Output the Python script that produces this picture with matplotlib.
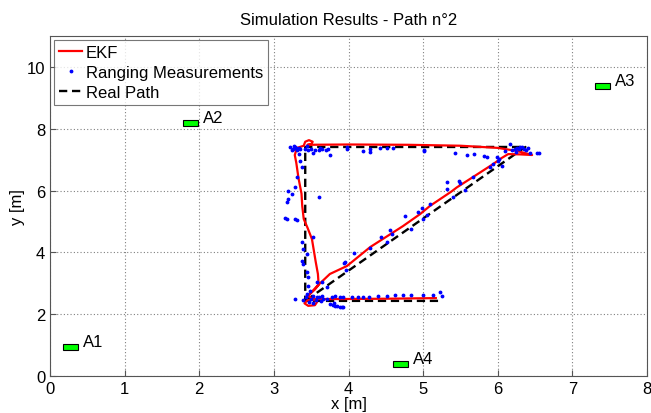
import matplotlib
matplotlib.use("Agg")
import matplotlib.pyplot as plt
from matplotlib.patches import Rectangle

plt.rcParams['font.family'] = ['Liberation Sans', 'DejaVu Sans']

# Real path
real_x = [5.20, 3.42, 3.42, 6.37, 3.42]
real_y = [2.43, 2.43, 7.41, 7.41, 2.43]

# EKF estimate
ekf_x = [5.17, 4.50, 3.90, 3.55, 3.45, 3.41, 3.46, 3.55, 3.58, 3.50, 3.46, 3.55, 3.60, 3.59,
         3.56, 3.51, 3.45, 3.40, 3.38, 3.37, 3.33, 3.30, 3.28, 3.31, 3.40, 3.42, 3.47, 3.52,
         3.50, 3.45, 4.00, 4.80, 5.50, 6.00, 6.26, 6.46, 6.30, 6.14, 6.05, 5.94, 5.67, 5.45,
         5.38, 5.09, 4.96, 4.73, 4.29, 3.98, 3.75, 3.58, 3.46]
ekf_y = [2.52, 2.50, 2.49, 2.49, 2.45, 2.35, 2.27, 2.29, 2.40, 2.52, 2.60, 2.80, 2.95, 3.30,
         3.70, 4.43, 4.80, 5.08, 5.50, 5.90, 6.40, 6.90, 7.15, 7.38, 7.45, 7.58, 7.63, 7.58,
         7.50, 7.48, 7.49, 7.48, 7.45, 7.38, 7.28, 7.15, 7.17, 7.18, 7.05, 6.86, 6.44, 6.10,
         5.97, 5.50, 5.24, 4.85, 4.17, 3.56, 3.30, 2.91, 2.60]

# Ranging measurements
meas_x = [3.22, 3.25, 3.28, 3.30, 3.33, 3.35, 3.27, 3.31, 3.42, 3.46, 3.50, 3.55, 3.60, 3.65,
          3.70, 3.72, 3.53, 3.75, 3.98, 4.19, 4.29, 4.42, 4.51, 4.60, 4.29, 5.01, 3.33, 3.35,
          3.38, 3.31, 3.28, 3.24, 3.19, 3.19, 3.18, 3.60, 3.15, 3.18, 3.31, 3.28, 3.38, 3.53,
          3.39, 3.44, 3.38, 3.39, 3.44, 3.46, 3.58, 3.65, 3.46, 3.49, 3.28, 3.39, 3.43, 3.47,
          3.50, 3.53, 3.57, 3.60, 3.63, 3.66, 3.45, 3.52, 3.71, 3.75, 3.79, 3.82, 3.85, 3.88,
          3.91, 3.93, 3.80, 3.78, 3.82, 3.89, 3.93, 4.05, 4.13, 4.19, 4.28, 4.40, 4.52, 4.62,
          4.73, 4.84, 5.00, 5.13, 5.23, 5.25, 3.71, 3.65, 3.58, 3.95, 3.94, 3.97, 4.07, 4.29,
          4.44, 4.56, 4.58, 4.52, 4.76, 4.84, 4.93, 4.99, 5.00, 5.05, 5.09, 5.32, 5.32, 5.40,
          5.48, 5.49, 5.56, 5.67, 5.90, 5.94, 5.99, 6.00, 6.02, 6.05, 5.43, 5.59, 5.68, 5.82,
          5.86, 5.01, 6.10, 6.17, 6.19, 6.23, 6.26, 6.29, 6.32, 6.35, 6.38, 6.41, 6.25, 6.30,
          6.53, 6.55, 6.43, 3.98, 3.62, 3.45, 3.24]
meas_y = [7.40, 7.35, 7.41, 7.37, 7.39, 7.36, 7.44, 7.30, 7.33, 7.30, 7.35, 7.32, 7.30, 7.34,
          7.31, 7.35, 7.22, 7.15, 7.35, 7.28, 7.35, 7.38, 7.38, 7.38, 7.25, 7.28, 7.18, 6.96,
          6.76, 6.44, 6.12, 5.89, 5.99, 5.73, 5.63, 5.79, 5.11, 5.08, 5.05, 5.08, 4.34, 4.50,
          4.11, 3.95, 3.72, 3.62, 3.37, 3.20, 3.04, 3.04, 2.91, 2.75, 2.49, 2.45, 2.55, 2.40,
          2.50, 2.60, 2.45, 2.55, 2.42, 2.50, 2.65, 2.35, 2.88, 2.33, 2.30, 2.28, 2.26, 2.24,
          2.22, 2.23, 2.35, 2.56, 2.59, 2.56, 2.56, 2.56, 2.56, 2.56, 2.56, 2.59, 2.59, 2.62,
          2.62, 2.62, 2.62, 2.62, 2.72, 2.59, 2.49, 2.59, 2.56, 3.69, 3.65, 3.43, 3.98, 4.14,
          4.50, 4.72, 4.60, 4.34, 5.18, 4.76, 5.31, 5.44, 5.08, 5.21, 5.57, 6.28, 6.05, 5.79,
          6.31, 6.25, 6.02, 6.44, 6.76, 6.86, 7.09, 6.96, 7.02, 6.80, 7.22, 7.15, 7.18, 7.12,
          7.09, 7.31, 7.28, 7.50, 7.30, 7.35, 7.38, 7.33, 7.40, 7.36, 7.30, 7.38, 7.25, 7.41,
          7.22, 7.20, 7.20, 7.41, 7.38, 7.45, 7.32]

# Anchors
anchor_names = ["A1", "A2", "A3", "A4"]
anchor_x = [0.27, 1.88, 7.40, 4.70]
anchor_y = [0.94, 8.19, 9.39, 0.38]

fig = plt.figure(figsize=(6.51, 4.14), dpi=100)
ax = fig.add_axes([0.0768, 0.0894, 0.9171, 0.8212])

ax.plot(ekf_x, ekf_y, color="red", lw=1.6, label="EKF", zorder=3)
ax.plot(meas_x, meas_y, ".", color="blue", ms=3.5, label="Ranging Measurements", zorder=4)
ax.plot(real_x, real_y, "--", color="black", lw=1.7, dashes=(3.5, 2), label="Real Path", zorder=2)

w, h = 0.2, 0.18
for n, x, y in zip(anchor_names, anchor_x, anchor_y):
    ax.add_patch(Rectangle((x - w / 2, y - h / 2), w, h, facecolor="#00ff00",
                           edgecolor="black", lw=0.8, zorder=5))
    ax.text(x + w / 2 + 0.07, y + 0.18, n, fontsize=12, va="center", ha="left")

ax.set_xlim(0, 8)
ax.set_ylim(0, 11)
ax.set_xticks(range(0, 9))
ax.set_yticks(range(0, 11, 2))
ax.tick_params(direction="in", labelsize=12, length=4, color="#555555")
for s in ax.spines.values():
    s.set_color("#555555")
    s.set_linewidth(0.8)
ax.grid(True, linestyle=(0, (1, 2)), color="#808080", lw=0.8)
ax.set_axisbelow(True)
ax.set_xlabel("x [m]", fontsize=12, labelpad=0)
ax.set_ylabel("y [m]", fontsize=12, labelpad=1)
ax.set_title("Simulation Results - Path n°2", fontsize=12, pad=9)

leg = ax.legend(loc="upper left", fontsize=12, frameon=True, fancybox=False,
                edgecolor="#555555", borderpad=0.3, handlelength=1.4, handletextpad=0.2,
                labelspacing=0.3, borderaxespad=0.25, markerscale=1)
leg.get_frame().set_linewidth(0.8)

fig.savefig("out.png", dpi=100)
